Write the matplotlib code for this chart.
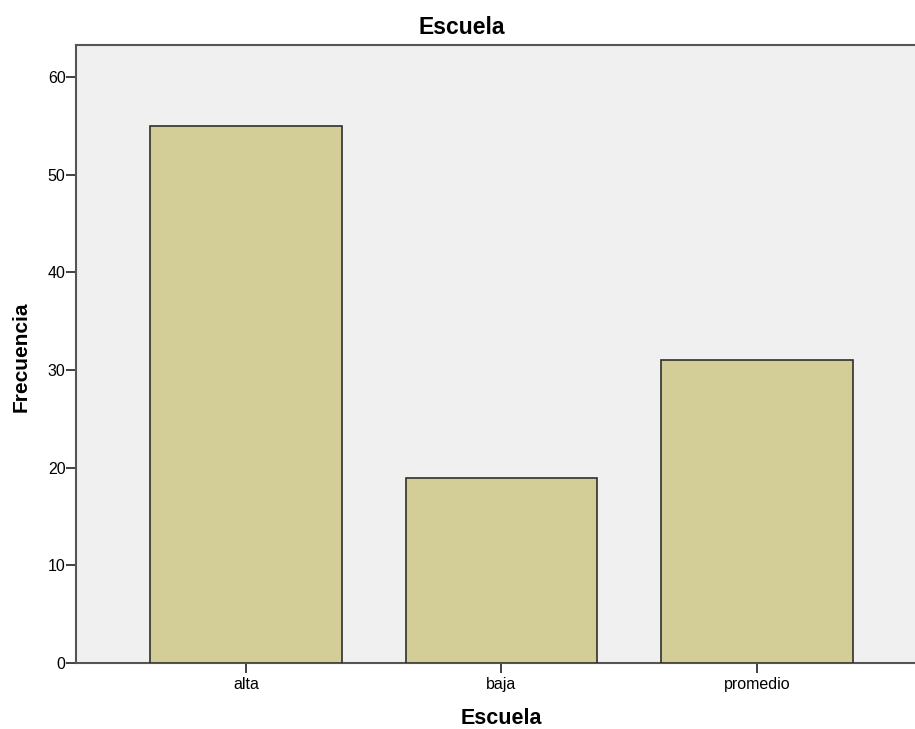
import matplotlib
matplotlib.use("Agg")
import matplotlib.pyplot as plt
import numpy as np

# datos de la tabla de frecuencias
categorias = ["alta", "baja", "promedio"]
frecuencias = [55, 19, 31]
yticks = [0, 10, 20, 30, 40, 50, 60]

plt.rcParams["font.family"] = ["Liberation Sans", "DejaVu Sans"]

fig = plt.figure(figsize=(9.15, 7.29), dpi=100)
ax = fig.add_axes([76/915, 66/729, (927-76)/915, (663-45)/729])
ax.set_facecolor("#f0f0f0")

x = np.arange(len(categorias))
ax.bar(x, frecuencias, width=0.75, color="#d3ce98", edgecolor="#2f2f2a", linewidth=1.2, zorder=3)

ax.set_xlim(-0.665, len(categorias) - 1 + 0.665)
ax.set_ylim(0, 63.3)
ax.set_xticks(x)
ax.set_xticklabels(categorias, fontsize=11.5)
ax.set_yticks(yticks)
ax.set_yticklabels([str(v) for v in yticks], fontsize=11.5)
ax.tick_params(length=7, width=1.3, color="#333333")
ax.tick_params(axis="x", pad=3)
ax.tick_params(axis="y", pad=0.5)

for s in ["left", "bottom", "top"]:
    ax.spines[s].set_color("#555555")
    ax.spines[s].set_linewidth(1.5)
ax.spines["right"].set_visible(False)

fig.text(462/915, 1 - 27/729, "Escuela", ha="center", va="center", fontsize=16.5, fontweight="bold")
fig.text(501/915, 1 - 719/729, "Escuela", ha="center", va="center", fontsize=15.5, fontweight="bold")
fig.text(21/915, 1 - 357/729, "Frecuencia", ha="center", va="center", rotation=90, fontsize=15, fontweight="bold")

fig.savefig("out.png", dpi=100)
